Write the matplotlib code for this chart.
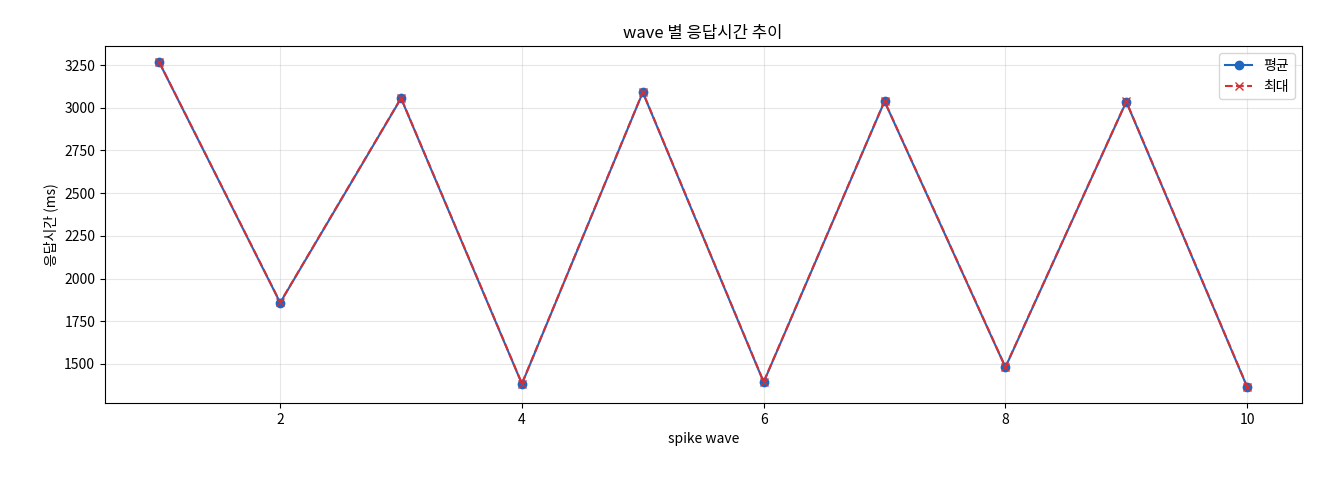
import matplotlib
matplotlib.use("Agg")
import matplotlib.pyplot as plt

plt.rcParams['font.family'] = ['Noto Sans CJK KR', 'DejaVu Sans']

waves = [1, 2, 3, 4, 5, 6, 7, 8, 9, 10]
avg_ms = [3265, 1858, 3055, 1383, 3090, 1393, 3037, 1480, 3035, 1365]
max_ms = [3266, 1860, 3057, 1385, 3092, 1395, 3039, 1482, 3037, 1367]

fig, ax = plt.subplots(figsize=(13.2, 4.8), dpi=100)
fig.subplots_adjust(left=0.0795, right=0.986, top=0.904, bottom=0.16)
ax.plot(waves, avg_ms, '-o', color='#1f66c1', label='평균', markersize=6)
ax.plot(waves, max_ms, '--x', color='#d62f34', label='최대', markersize=6)
ax.set_title('wave 별 응답시간 추이')
ax.set_xlabel('spike wave')
ax.set_ylabel('응답시간 (ms)')
ax.grid(True, alpha=0.3)
ax.legend(loc='upper right')
fig.savefig('out.png')
